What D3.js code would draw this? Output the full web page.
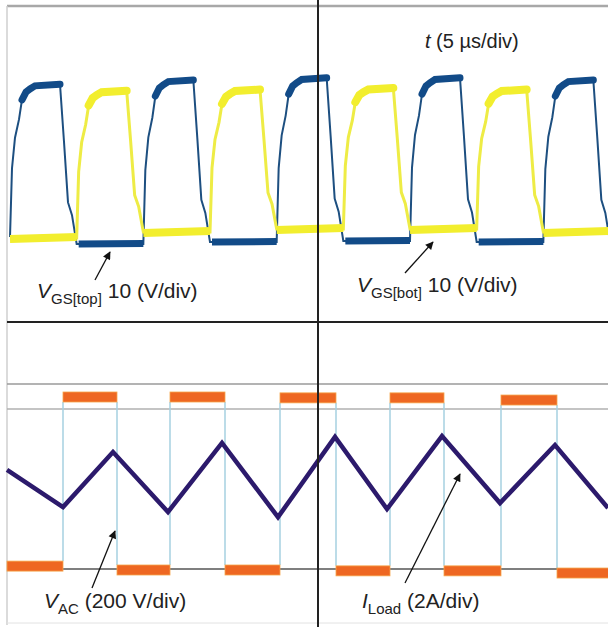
<!DOCTYPE html>
<html>
<head>
<meta charset="utf-8">
<script src="https://cdn.jsdelivr.net/npm/d3@7"></script>
<style>
body{margin:0;background:#fff}
svg{display:block}
text{font-family:"Liberation Sans",Arial,sans-serif;fill:#222}
</style>
</head>
<body>
<svg id="viz" width="608" height="627"></svg>
<script>
// gate drive (top panel): rising edges in us, levels in V
var topEdges = [0, 20, 40, 60, 80]
var botEdges = [10, 30, 50, 70]
var topHigh = [14.6, 15.0, 15.2, 15.2, 15.0]
var botHigh = [14.0, 14.1, 14.25, 14.1]
var topLow = [-0.37, -0.19, -0.09, -0.19]      // while bot is on
var botLow = [0.19, 0.75, 1.03, 1.03, 0.75]    // while top is on
// one gate pulse as read off the first one: time after edge (us), share of the swing
var shapeT = [0, 0.3, 0.75, 1.35, 1.8, 2.4, 3.0, 3.75, 7.5, 8.1, 8.7, 9.3, 10]
var shapeF = [0, 0.45, 0.65, 0.77, 0.9, 0.95, 0.97, 0.99, 1, 0.64, 0.26, 0.18, 0]

// bottom panel: V_AC switching instants (us) and levels (V)
var vacEdges = [7.95, 16.05, 24, 32.25, 40.5, 48.9, 57, 65.1, 73.65, 82.05]
var vacLevels = [-191, 200, -200, 200, -200, 198, -202, 198, -202, 193, -207]
// load current corners
var iT = [-0.45, 7.95, 15.45, 23.7, 31.8, 40.2, 48.75, 56.55, 64.8, 73.5, 81.75, 89.7]
var iA = [0.19, -1.19, 0.85, -1.37, 1.19, -1.56, 1.41, -1.26, 1.44, -1.04, 1.11, -1.22]

var svg = d3.select("#viz")
var W = 608

var x = d3.scaleLinear().domain([0, 90]).range([10, 610])
var yGate = d3.scaleLinear().domain([0, 15]).range([240, 80])
var yVac = d3.scaleLinear().domain([-200, 200]).range([570, 397])
var yI = d3.scaleLinear().domain([0, 1]).range([475, 448])

var line = d3.line().x(d => x(d[0])).y(d => d[1])

// frame and scope grid
svg.append("line").attr("x1", 7).attr("x2", W).attr("y1", 6).attr("y2", 6)
   .attr("stroke", "#a8a8a8").attr("stroke-width", 2.5)
svg.append("line").attr("x1", 7).attr("x2", 7).attr("y1", 6).attr("y2", 625)
   .attr("stroke", "#cfcfcf").attr("stroke-width", 1.5)
svg.append("line").attr("x1", 7).attr("x2", W).attr("y1", 623).attr("y2", 623)
   .attr("stroke", "#e2e2e2").attr("stroke-width", 1)
svg.append("line").attr("x1", 7).attr("x2", W).attr("y1", 384).attr("y2", 384)
   .attr("stroke", "#9a9a9a").attr("stroke-width", 1.5)
svg.append("line").attr("x1", 7).attr("x2", W).attr("y1", 409).attr("y2", 409)
   .attr("stroke", "#b0b0b0").attr("stroke-width", 1.5)
svg.append("line").attr("x1", 7).attr("x2", W).attr("y1", 569).attr("y2", 569)
   .attr("stroke", "#555").attr("stroke-width", 1.5)
svg.append("line").attr("x1", 7).attr("x2", W).attr("y1", 322).attr("y2", 322)
   .attr("stroke", "#222").attr("stroke-width", 2)

// ---- gate traces ----
function pulsePts(e, lo0, hi, lo1) {
    return shapeT.map((t, k) => {
        var lo = k <= 8 ? lo0 : lo1
        return [e + t, yGate(lo + shapeF[k] * (hi - lo))]
    })
}

var topPts = []
topEdges.forEach((e, i) => {
    var lo0 = i > 0 ? topLow[i - 1] : 0.28
    var lo1 = i < topLow.length ? topLow[i] : topLow[i - 1]
    topPts = topPts.concat(pulsePts(e, lo0, topHigh[i], lo1))
})
var botPts = [[0, yGate(botLow[0])]]
botEdges.forEach((e, i) => {
    botPts = botPts.concat(pulsePts(e, botLow[i], botHigh[i], botLow[i + 1]))
})
botPts.push([90, yGate(botLow[4])])

var BLUE = "#124b88", YEL = "#f2ee2e"

svg.append("path").attr("d", line(topPts)).attr("fill", "none")
   .attr("stroke", "#1d4f80").attr("stroke-width", 2)
svg.append("path").attr("d", line(botPts)).attr("fill", "none")
   .attr("stroke", "#eeec45").attr("stroke-width", 3)

// thick plateaus
topEdges.forEach((e, i) => {
    var p = pulsePts(e, 0, topHigh[i], 0).slice(4, 9)
    svg.append("path").attr("d", line(p)).attr("fill", "none")
       .attr("stroke", BLUE).attr("stroke-width", 7).attr("stroke-linecap", "round")
})
botEdges.forEach((e, i) => {
    var p = pulsePts(e, botLow[i], botHigh[i], 0).slice(4, 9)
    svg.append("path").attr("d", line(p)).attr("fill", "none")
       .attr("stroke", YEL).attr("stroke-width", 8).attr("stroke-linecap", "round")
})
// thick low levels
botLow.forEach((v, i) => {
    var t0 = i * 20, t1 = Math.min(t0 + 10, 90)
    svg.append("line").attr("x1", x(t0)).attr("x2", x(t1))
       .attr("y1", yGate(v) + 1).attr("y2", yGate(v) - 1)
       .attr("stroke", YEL).attr("stroke-width", 8)
})
topLow.forEach((v, i) => {
    var t0 = 10 + i * 20
    svg.append("line").attr("x1", x(t0) + 2).attr("x2", x(t0 + 10))
       .attr("y1", yGate(v)).attr("y2", yGate(v) - 0.5)
       .attr("stroke", BLUE).attr("stroke-width", 7)
})

// ---- V_AC square wave ----
var bounds = [-0.45].concat(vacEdges).concat([90])
vacEdges.forEach((e, i) => {
    var a = vacLevels[i], b = vacLevels[i + 1]
    var hi = Math.max(a, b), lo = Math.min(a, b)
    svg.append("line").attr("x1", x(e)).attr("x2", x(e))
       .attr("y1", yVac(hi) + 5).attr("y2", yVac(lo) - 5)
       .attr("stroke", "#a6d0e0").attr("stroke-width", 1.5)
})
vacLevels.forEach((v, i) => {
    svg.append("rect")
       .attr("x", x(bounds[i])).attr("width", x(bounds[i + 1]) - x(bounds[i]))
       .attr("y", yVac(v) - 5).attr("height", 10)
       .attr("fill", "#ee6722").attr("stroke", "#f6a64c").attr("stroke-width", 0.8)
})

// ---- load current ----
svg.append("path")
   .attr("d", d3.line().x((d, k) => x(d)).y((d, k) => yI(iA[k]))(iT))
   .attr("fill", "none").attr("stroke", "#2c1a6c").attr("stroke-width", 4.5)
   .attr("stroke-linejoin", "miter")

// center vertical
svg.append("line").attr("x1", 318).attr("x2", 318).attr("y1", 0).attr("y2", 627)
   .attr("stroke", "#222").attr("stroke-width", 2)

// ---- annotations ----
svg.append("defs").append("marker").attr("id", "ah")
   .attr("viewBox", "0 0 10 10").attr("refX", 9).attr("refY", 5)
   .attr("markerWidth", 10).attr("markerHeight", 8).attr("markerUnits", "userSpaceOnUse")
   .attr("orient", "auto")
   .append("path").attr("d", "M0,0L10,5L0,10z").attr("fill", "#111")

function arrow(x1, y1, x2, y2) {
    svg.append("line").attr("x1", x1).attr("y1", y1).attr("x2", x2).attr("y2", y2)
       .attr("stroke", "#111").attr("stroke-width", 1.3).attr("marker-end", "url(#ah)")
}
arrow(95, 280, 110, 252)
arrow(405, 273, 433, 242)
arrow(92, 588, 115, 531)
arrow(405, 583, 460, 474)

function label(x0, y0, main, sub, rest) {
    var t = svg.append("text").attr("x", x0).attr("y", y0).attr("font-size", 21)
    t.append("tspan").attr("font-style", "italic").text(main)
    t.append("tspan").attr("font-size", 15).attr("dy", 6).text(sub)
    t.append("tspan").attr("dy", -6).text(rest)
}
label(37, 298, "V", "GS[top]", " 10 (V/div)")
label(357, 292, "V", "GS[bot]", " 10 (V/div)")
label(44, 608, "V", "AC", " (200 V/div)")
label(362, 608, "I", "Load", " (2A/div)")

var tt = svg.append("text").attr("x", 425).attr("y", 48).attr("font-size", 20)
tt.append("tspan").attr("font-style", "italic").text("t")
tt.append("tspan").text(" (5 \u00b5s/div)")
</script>
</body>
</html>
